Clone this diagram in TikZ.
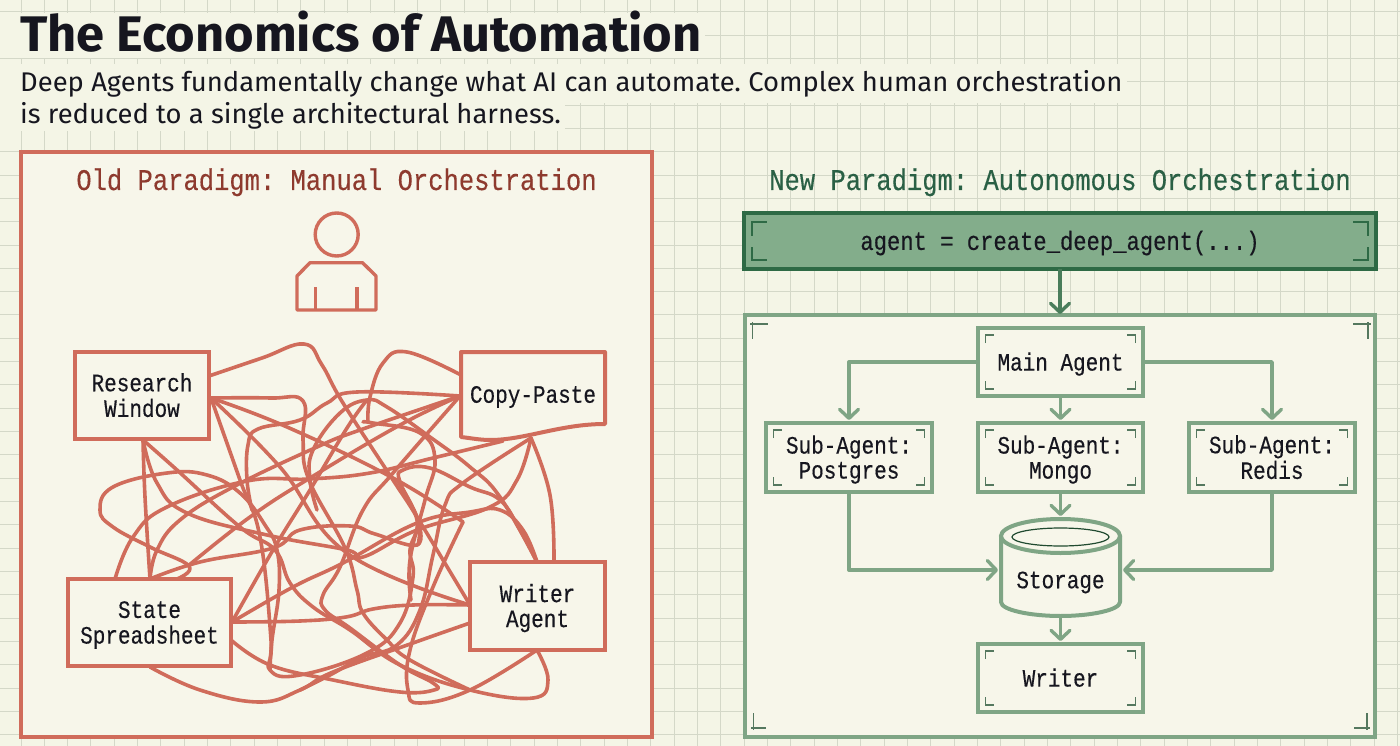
\documentclass[tikz,border=0pt]{standalone}
\usepackage{fontspec}
\usetikzlibrary{arrows.meta,calc}
\setmainfont{Fira Sans}
\newfontfamily\titlefont[FakeStretch=1.013]{Fira Sans}
\newfontfamily\subfont[FakeStretch=1.015]{Fira Sans}
\newfontfamily\boxfont[FakeStretch=0.84,FakeBold=0.35]{Liberation Mono}
\newfontfamily\headfont[FakeStretch=0.85,FakeBold=0.3]{Liberation Mono}
\definecolor{paper}{HTML}{F4F5E6}
\definecolor{panelbg}{HTML}{F7F6EA}
\definecolor{gridline}{HTML}{D4D8C8}
\definecolor{redline}{HTML}{D06C5B}
\definecolor{redtext}{HTML}{8E3A2E}
\definecolor{greenline}{HTML}{7FA585}
\definecolor{greendark}{HTML}{2E6A45}
\definecolor{greenmid}{HTML}{4A7D5B}
\definecolor{greenfill}{HTML}{83AD8B}
\definecolor{greentext}{HTML}{2A6045}
\definecolor{marks}{HTML}{55785F}
\definecolor{ink}{HTML}{16161F}
\newcommand{\lowered}[1]{\raisebox{-3.25pt}[\height][\depth]{\begin{tabular}{@{}c@{}}#1\end{tabular}}}
\tikzset{
  tangleline/.style={draw=redline,line width=3.6pt,line join=round,line cap=round},
  redbox/.style={draw=redline,line width=4pt,fill=panelbg,inner sep=0pt,outer sep=0pt,text=ink,font=\boxfont\fontsize{25}{25}\selectfont},
  greenbox/.style={draw=greenline,line width=4pt,fill=panelbg,inner sep=0pt,outer sep=0pt,text=ink,font=\boxfont\fontsize{25}{25}\selectfont},
  flowarrow/.style={draw=greenline,line width=3.4pt,line join=round,-{Straight Barb[length=9pt,width=19pt,line width=3.4pt,round]}},
  heading/.style={inner sep=0pt,anchor=base,font=\headfont\fontsize{30}{30}\selectfont},
  cornertick/.style={draw=marks,line width=1.6pt},
}
\newcommand{\cornermarks}[1]{%
  \draw[cornertick] ([xshift=7.5pt,yshift=-15pt]#1.north west) -- ++(0,-8) -- ++(8.5,0);
  \draw[cornertick] ([xshift=-7.5pt,yshift=-15pt]#1.north east) -- ++(0,-8) -- ++(-8.5,0);
  \draw[cornertick] ([xshift=7.5pt,yshift=15pt]#1.south west) -- ++(0,8) -- ++(8.5,0);
  \draw[cornertick] ([xshift=-7.5pt,yshift=15pt]#1.south east) -- ++(0,8) -- ++(-8.5,0);
}
\newcommand{\strand}[1]{\draw[tangleline] plot[smooth,tension=0.7] coordinates {#1};}
\begin{document}
\frenchspacing
\begin{tikzpicture}[x=1pt,y=-1pt]
\useasboundingbox (0,0) rectangle (1400,746);
\fill[paper] (0,0) rectangle (1400,746);
% grid
\foreach \k in {0,...,59} \draw[gridline,line width=1pt] ({21+23.33*\k},0) -- ({21+23.33*\k},746);
\foreach \k in {0,...,31} \draw[gridline,line width=1pt] (0,{11.7+23.33*\k}) -- (1400,{11.7+23.33*\k});
% masks behind the header texts
\fill[paper] (0,13) rectangle (705,58);
\fill[paper] (0,64) rectangle (1127,103);
\fill[paper] (0,103) rectangle (565,131);
% title
\node[inner sep=0pt,anchor=base west,text=ink,font=\titlefont\bfseries\fontsize{50}{52}\selectfont] (title) at (20,52) {The Economics of Automation};
\node[inner sep=0pt,anchor=base west,text=ink,font=\subfont\fontsize{27}{32}\selectfont] (sub1) at (20,92) {Deep Agents fundamentally change what AI can automate. Complex human orchestration};
\node[inner sep=0pt,anchor=base west,text=ink,font=\subfont\fontsize{27}{32}\selectfont] (sub2) at (20,124) {is reduced to a single architectural harness.};
% left panel
\node[draw=redline,line width=4pt,fill=panelbg,minimum width=631pt,minimum height=585pt,inner sep=0pt,outer sep=0pt] (oldpanel) at (336.5,444.5) {};
\node[heading,text=redtext] (oldhead) at (336.5,190) {Old Paradigm: Manual Orchestration};
% person
\draw[redline,line width=3.4pt] (336.7,234.5) ellipse [x radius=21.5,y radius=21.5];
\draw[redline,line width=3.4pt,line join=round] (297,310) -- (376,310) -- (376,276) -- (362.5,262.7) -- (310,262.7) -- (297,276) -- cycle;
\draw[redline,line width=3.4pt] (315.6,287) -- (315.6,310);
\draw[redline,line width=3.4pt] (357,287) -- (357,310);
% tangle hubs
\coordinate (r1) at (209,376);
\coordinate (r2) at (211,398);
\coordinate (r3) at (143,440);
\coordinate (c1) at (461,375);
\coordinate (c2) at (460,396);
\coordinate (c3) at (531,438);
\coordinate (c4) at (503,441);
\coordinate (w1) at (470,605);
\coordinate (w2) at (470,623);
\coordinate (w3) at (537,562);
\coordinate (w4) at (554,562);
\coordinate (w5) at (537,650);
\coordinate (s1) at (150,579);
\coordinate (s2) at (115,579);
\coordinate (s3) at (177,579);
\coordinate (s4) at (232,622);
\coordinate (s5) at (231,640);
\coordinate (s6) at (150,667);
% tangle
\strand{(r1) (262,358) (304,344) (322,365) (343,403) (393,480) (417,517) (w1)}
\strand{(r2) (270,398) (303,401) (303,440) (309,480) (345,548) (357,590) (363,613) (387,640) (410,660) (470,690)}
\strand{(r2) (287,427) (393,478) (463,522)}
\strand{(w5) (470,690) (420,703) (408,690) (410,650) (433,587) (463,522)}
\strand{(r2) (240,480) (260,537) (271,640) (270,670) (300,675) (367,653) (400,623) (413,577) (410,550) (417,520) (397,480)}
\strand{(c2) (357,392) (327,403) (300,420) (258,429) (248,445) (247,480) (252,510)}
\strand{(r2) (280,467) (347,553) (w1)}
\strand{(r3) (145,497) (s1)}
\strand{(r3) (177,470) (240,527) (275,550) (290,583) (313,607) (350,630) (400,665) (470,690) (533,698) (548,680) (w5)}
\strand{(r3) (157,483) (187,513) (267,535) (347,550) (363,557) (417,530) (490,507) (517,480) (c3)}
\strand{(s2) (133,537) (167,507) (247,481) (310,479) (370,473) (433,458) (c4)}
\strand{(s1) (157,550) (180,520) (233,487) (317,447) (360,430) (c2)}
\strand{(s3) (189,566) (150,547) (113,527) (100,510) (113,487) (167,473) (207,475) (240,493) (265,525) (277,550) (279,590) (272,640) (270,670)}
\strand{(s1) (200,562) (273,548) (300,530) (350,526) (375,534) (417,545) (418,520)}
\strand{(s4) (273,550) (310,490) (347,428) (367,400)}
\strand{(s4) (300,621) (346,617) (373,609) (413,605) (w1)}
\strand{(s4) (293,587) (343,563) (417,523) (470,512) (500,510) (523,530) (w3)}
\strand{(s6) (200,690) (260,702) (300,690) (333,672) (413,643) (w2)}
\strand{(317,510) (310,480) (313,450) (340,413) (367,400) (387,407) (430,437) (470,467) (500,497) (w3)}
\strand{(c1) (407,352) (383,363) (370,397) (368,422)}
\strand{(363,422) (373,423) (420,433) (435,460) (425,500) (410,560) (411,600)}
\strand{(c2) (393,473) (363,510) (340,567) (323,595) (325,610) (350,628) (400,665) (433,683) (434,690) (400,692) (333,680) (270,665) (s5)}
\strand{(188,566) (250,517) (310,478) (400,425) (c2)}
\strand{(c3) (463,483) (445,505) (433,555) (420,610) (397,645) (363,657) (330,675) (300,690)}
\strand{(c3) (550,495) (w4)}
\strand{(418,545) (418,520) (400,482) (403,470) (430,468) (470,487) (500,500) (520,530) (w3)}
% left boxes
\node[redbox,minimum width=134pt,minimum height=87pt] (research) at (142,395.5) {\lowered{Research\\Window}};
\node[redbox,minimum width=163pt,minimum height=87pt] (state) at (149.5,622.5) {\lowered{State\\Spreadsheet}};
\node[redbox,minimum width=135pt,minimum height=88pt] (writeragent) at (537.5,606) {\lowered{Writer\\Agent}};
\fill[panelbg] (461,352) -- (605,352) -- (605,424) .. controls (560,424) and (525,440) .. (490,440) .. controls (480,440) and (470,438) .. (461,437) -- cycle;
\draw[redline,line width=4pt,line join=round] (461,352) -- (605,352) -- (605,424) .. controls (560,424) and (525,440) .. (490,440) .. controls (480,440) and (470,438) .. (461,437) -- cycle;
\node[inner sep=0pt,text=ink,font=\boxfont\fontsize{25}{25}\selectfont] (copypaste) at (533,394.5) {\lowered{Copy-Paste}};
% right side
\node[heading,text=greentext] (newhead) at (1060,190) {New Paradigm: Autonomous Orchestration};
\node[draw=greenline,line width=4pt,fill=panelbg,minimum width=630pt,minimum height=422pt,inner sep=0pt,outer sep=0pt] (newpanel) at (1060,526) {};
\node[draw=greendark,line width=4pt,fill=greenfill,minimum width=632pt,minimum height=56pt,inner sep=0pt,outer sep=0pt,text=ink,font=\boxfont\fontsize{26.4}{26}\selectfont] (code) at (1060,241) {\lowered{agent = create\_deep\_agent(...)}};
\draw[cornertick,draw=greendark,line width=1.8pt] (752,236) -- (752,222) -- (767,222);
\draw[cornertick,draw=greendark,line width=1.8pt] (1368,236) -- (1368,222) -- (1353,222);
\draw[cornertick,draw=greendark,line width=1.8pt] (752,247) -- (752,260) -- (767,260);
\draw[cornertick,draw=greendark,line width=1.8pt] (1368,247) -- (1368,260) -- (1353,260);
% panel corner marks
\draw[cornertick,line width=1.3pt] (752.5,322) -- (752.5,339);
\draw[cornertick,line width=1.3pt] (750,324) -- (767.6,324);
\draw[cornertick,line width=1.3pt] (1368,322) -- (1368,339);
\draw[cornertick,line width=1.3pt] (1353,324) -- (1371,324);
\draw[cornertick,line width=1.3pt] (753.5,713) -- (753.5,730);
\draw[cornertick,line width=1.3pt] (751,728) -- (766,728);
\draw[cornertick,line width=1.3pt] (1367,713) -- (1367,730);
\draw[cornertick,line width=1.3pt] (1354,728) -- (1370,728);
% green boxes
\node[greenbox,minimum width=165pt,minimum height=68pt] (main) at (1060.5,362) {\lowered{Main Agent}};
\node[greenbox,minimum width=166pt,minimum height=69pt] (postgres) at (849,457.5) {\lowered{Sub-Agent:\\Postgres}};
\node[greenbox,minimum width=165pt,minimum height=69pt] (mongo) at (1060.5,457.5) {\lowered{Sub-Agent:\\Mongo}};
\node[greenbox,minimum width=166pt,minimum height=69pt] (redis) at (1272,457.5) {\lowered{Sub-Agent:\\Redis}};
\node[greenbox,minimum width=165pt,minimum height=68pt] (writer) at (1060.5,678) {\lowered{Writer}};
\foreach \n in {main,postgres,mongo,redis,writer} {\cornermarks{\n}}
% storage
\node[inner sep=0pt,outer sep=0pt,minimum width=119pt,minimum height=97pt] (storage) at (1060.5,567.5) {};
\draw[greenline,line width=4pt,fill=panelbg,line join=round] (1001,536) -- (1001,602) .. controls (1001,610) and (1030,616) .. (1060.5,616) .. controls (1091,616) and (1120,610) .. (1120,602) -- (1120,536) -- cycle;
\draw[greenline,line width=4pt,fill=panelbg] (1060.5,536) ellipse [x radius=59.5,y radius=17];
\draw[draw=greendark!70!black,line width=1.2pt] (1060.5,537) ellipse [x radius=48.5,y radius=9];
\node[inner sep=0pt,text=ink,font=\boxfont\fontsize{25}{25}\selectfont] (storagelabel) at (1060.5,580) {\lowered{Storage}};
% connectors
\draw[flowarrow,draw=greenmid,shorten >=1pt] (code.south) -- (newpanel.north -| code.south);
\draw[flowarrow,shorten >=3pt] (main.west) -| (postgres.north);
\draw[flowarrow,shorten >=3pt] (main.east) -| (redis.north);
\draw[flowarrow,shorten >=3pt] (main.south) -- (mongo.north);
\draw[flowarrow,shorten >=3pt] (mongo.south) -- (storage.north);
\draw[flowarrow,shorten >=3pt] (storage.south) -- (writer.north);
\draw[flowarrow,shorten >=3pt] (postgres.south) |- ([yshift=-2.5pt]storage.west);
\draw[flowarrow,shorten >=3pt] (redis.south) |- ([yshift=-2.5pt]storage.east);
\end{tikzpicture}
\end{document}
